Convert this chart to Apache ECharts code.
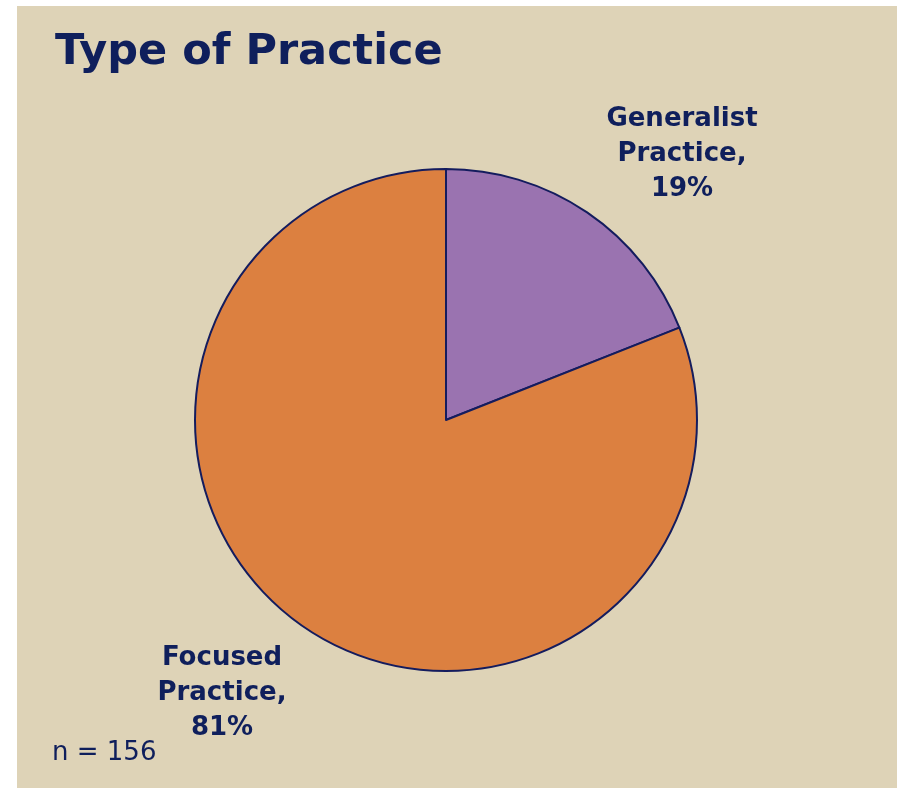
<!DOCTYPE html>
<html>
<head>
<meta charset="utf-8">
<style>
  html, body { margin: 0; padding: 0; background: #ffffff; }
  #chart { width: 901px; height: 788px; }
</style>
<script src="https://cdn.jsdelivr.net/npm/echarts@6/dist/echarts.min.js"></script>
</head>
<body>
<div id="chart"></div>
<script>
// Practice type shares (percent)
const categories = ['Generalist Practice', 'Focused Practice'];
const shares = [19, 81];
const sampleSize = 156;

const navy = '#0f1f5c';
const sliceColors = ['#9a73b0', '#dc8040'];

const chart = echarts.init(document.getElementById('chart'));

// label anchor points for each slice (centre of the text block)
const labelAnchors = [
  { x: 682, y: 154 },
  { x: 222, y: 693 }
];

chart.setOption({
  backgroundColor: '#ffffff',
  animation: false,
  graphic: [
    {
      type: 'rect',
      shape: { x: 17, y: 6, width: 880, height: 782 },
      style: { fill: '#ded3b7' },
      z: -10
    },
    {
      type: 'text',
      left: 55,
      top: 31,
      style: {
        text: 'Type of Practice',
        font: 'bold 43px "DejaVu Sans"',
        fill: navy
      }
    },
    {
      type: 'text',
      left: 52,
      top: 740,
      style: {
        text: 'n = ' + sampleSize,
        font: '26px "DejaVu Sans"',
        fill: navy
      }
    }
  ],
  series: [{
    type: 'pie',
    center: [446, 420],
    radius: 251,
    startAngle: 90,
    clockwise: true,
    data: categories.map((name, i) => ({
      name: name,
      value: shares[i],
      itemStyle: { color: sliceColors[i] }
    })),
    itemStyle: { borderColor: '#141c5e', borderWidth: 2 },
    label: {
      show: true,
      formatter: p => p.name.replace(' ', '\n') + ',\n' + p.value + '%',
      color: navy,
      fontFamily: 'DejaVu Sans',
      fontWeight: 'bold',
      fontSize: 26,
      lineHeight: 35,
      align: 'center'
    },
    labelLine: { show: false },
    labelLayout: params => ({
      x: labelAnchors[params.dataIndex].x,
      y: labelAnchors[params.dataIndex].y,
      align: 'center',
      verticalAlign: 'middle'
    }),
    emphasis: { disabled: true }
  }]
});
</script>
</body>
</html>
